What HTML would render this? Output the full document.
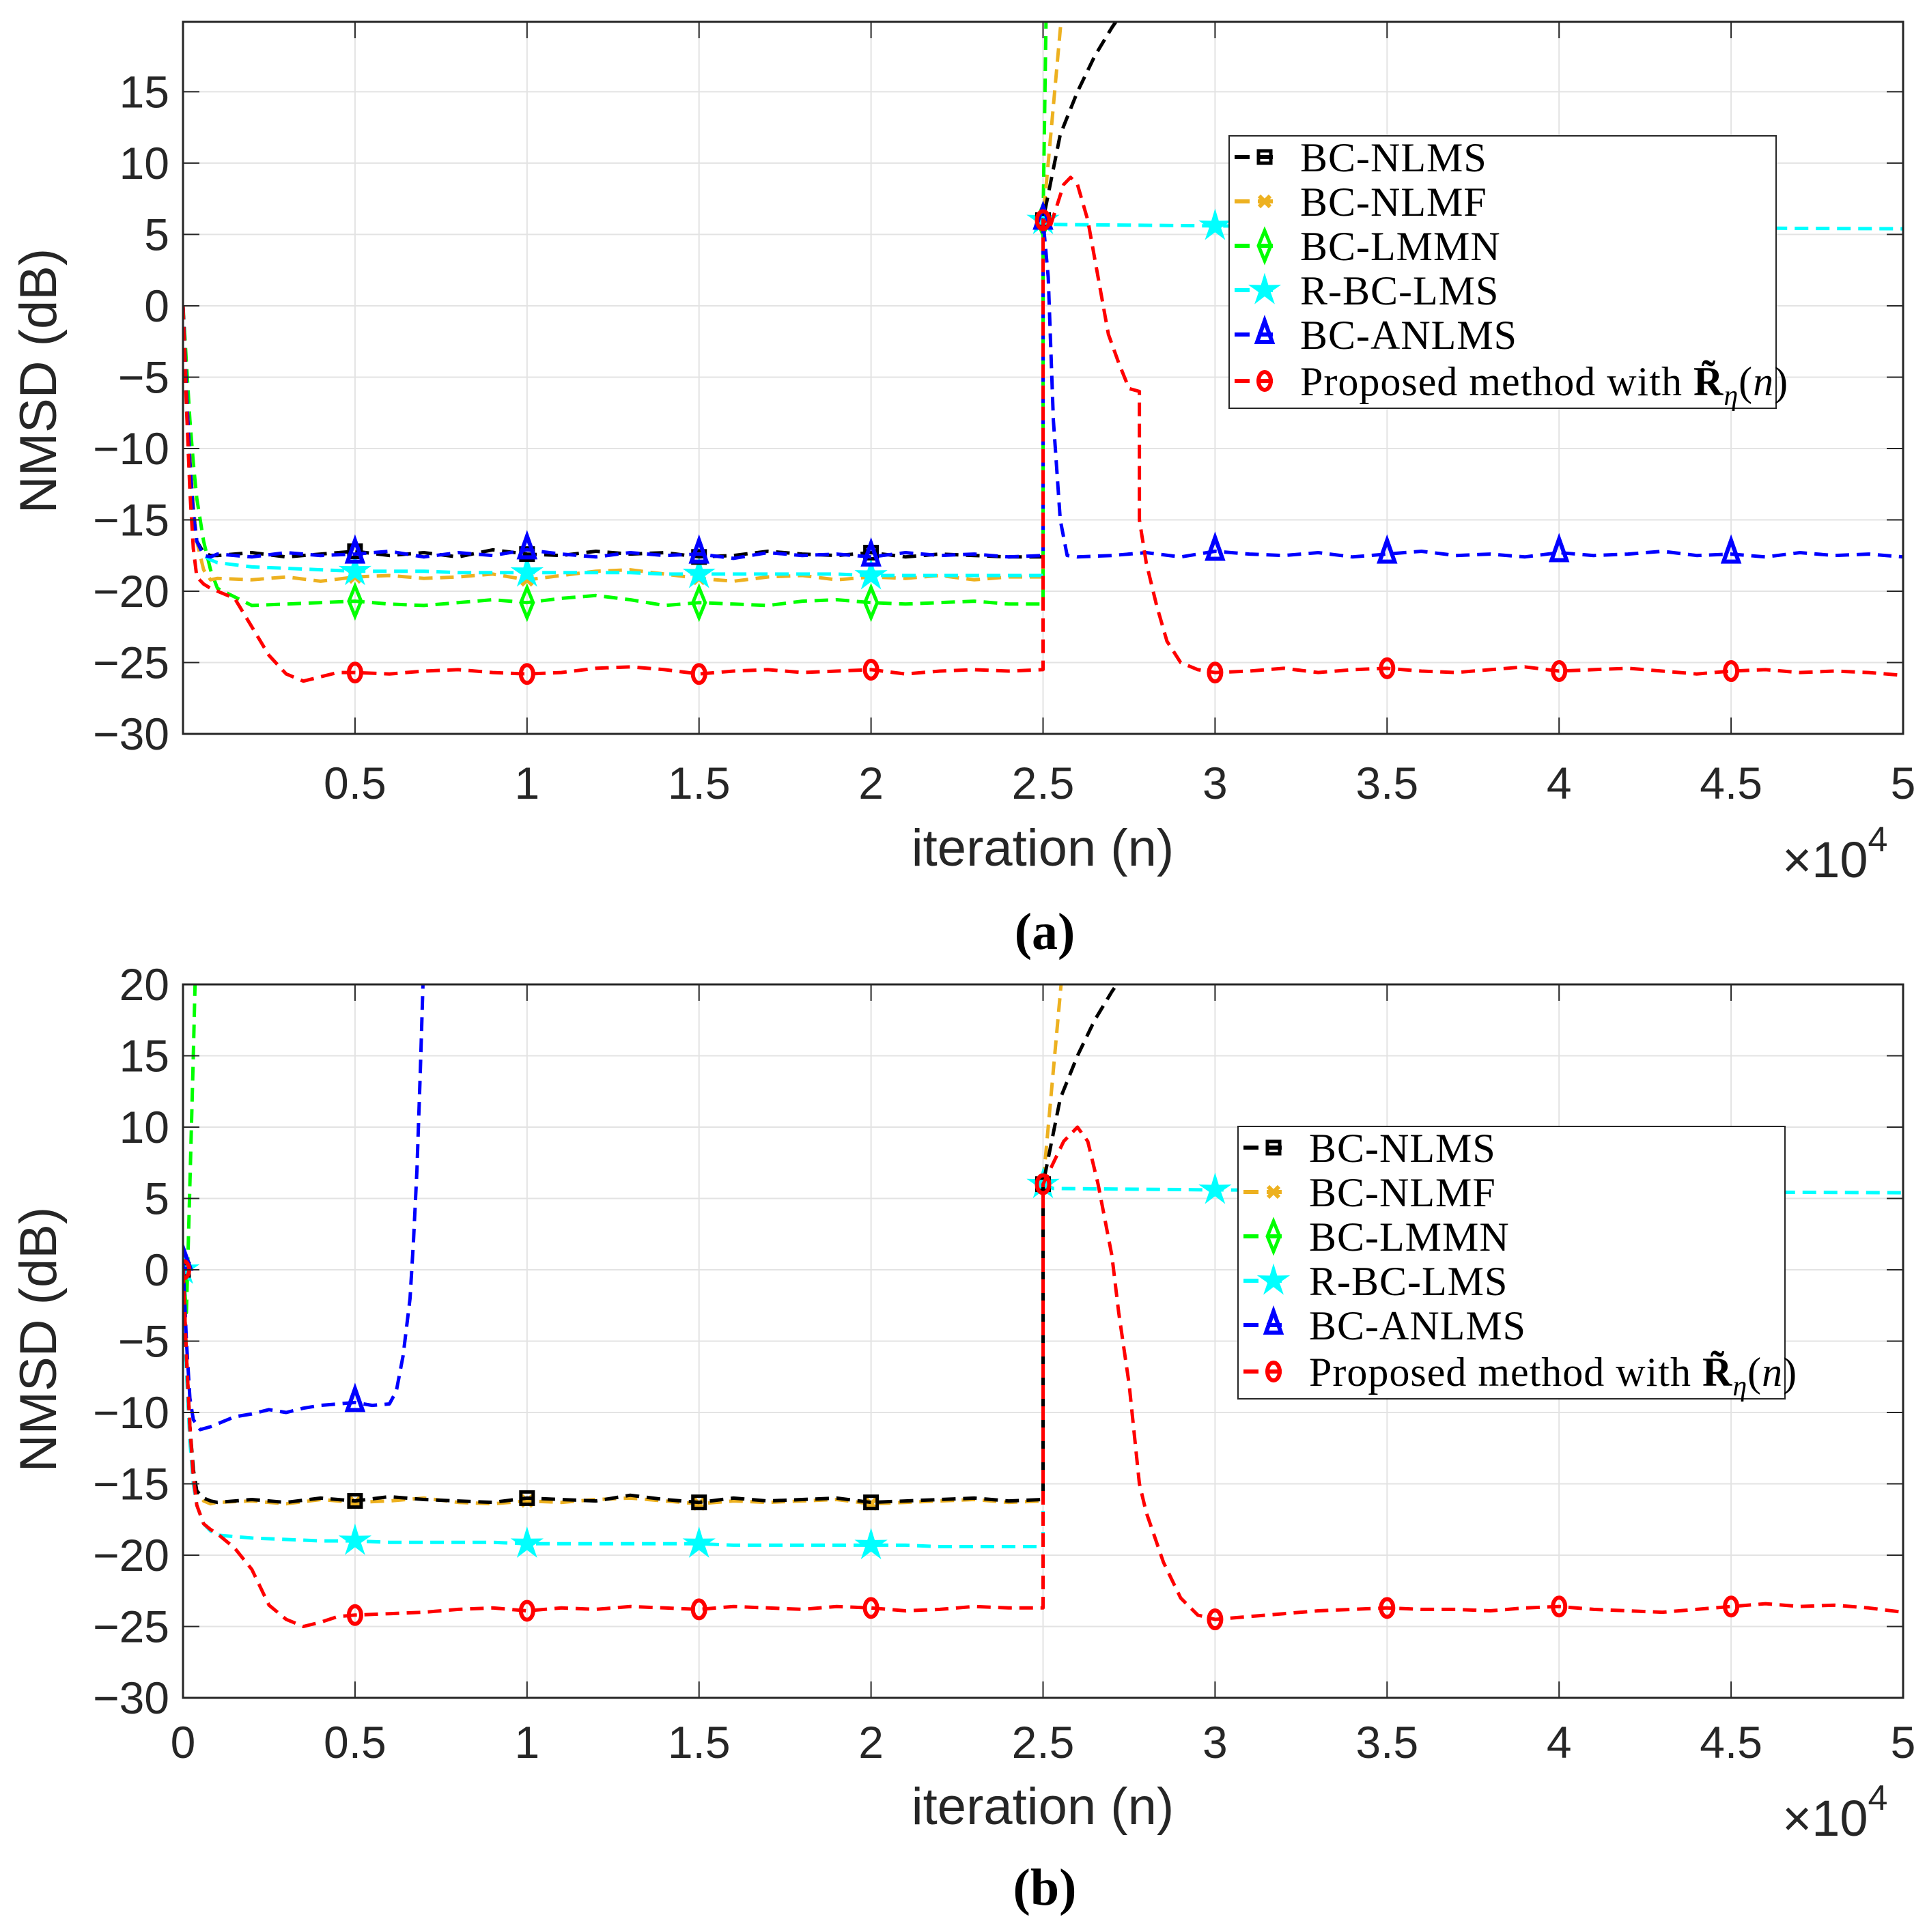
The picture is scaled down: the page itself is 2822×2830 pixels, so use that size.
<!DOCTYPE html>
<html><head><meta charset="utf-8"><style>
html,body{margin:0;padding:0;background:#fff}
svg{display:block}
.tick{font-family:"Liberation Sans",sans-serif;font-size:66px;fill:#262626}
.axt{font-family:"Liberation Sans",sans-serif;font-size:76px;fill:#262626}
.exp{font-family:"Liberation Sans",sans-serif;font-size:74px;fill:#262626}
.leg{font-family:"Liberation Serif",serif;font-size:60px;fill:#000;letter-spacing:1px}
.cap{font-family:"Liberation Serif",serif;font-size:76px;font-weight:bold;fill:#000}
</style></head><body>
<svg id="fig" width="2822" height="2830" viewBox="0 0 2822 2830" xmlns="http://www.w3.org/2000/svg">
<defs>
<clipPath id="clipA"><rect x="268" y="32" width="2519" height="1043"/></clipPath>
<clipPath id="clipB"><rect x="268" y="1442" width="2519" height="1045"/></clipPath>
</defs>
<g id="gridA"></g>
<g id="gridB"></g>
<g id="seriesA" clip-path="url(#clipA)"></g>
<g id="seriesB" clip-path="url(#clipB)"></g>
<g id="axesA"></g>
<g id="axesB"></g>
<text class="axt" transform="translate(82,558) rotate(-90)" text-anchor="middle">NMSD (dB)</text>
<text class="axt" x="1527" y="1268" text-anchor="middle">iteration (n)</text>
<text class="exp" x="2610" y="1285">×10<tspan font-size="52" dy="-38">4</tspan></text>
<text class="cap" x="1530" y="1390" text-anchor="middle">(a)</text>
<text class="axt" transform="translate(82,1962) rotate(-90)" text-anchor="middle">NMSD (dB)</text>
<text class="axt" x="1527" y="2672" text-anchor="middle">iteration (n)</text>
<text class="exp" x="2610" y="2689">×10<tspan font-size="52" dy="-38">4</tspan></text>
<text class="cap" x="1530" y="2790" text-anchor="middle">(b)</text>
<g id="legA"></g>
<g id="legB"></g>
</svg>
<script>
// ---------- data (a) ----------
const headIter = [0,100,200,300,400,600,800];
const midIter = [1000,2000,3000,4000,5000,6000,7000,8000,9000,10000,11000,12000,13000,14000,15000,16000,17000,18000,19000,20000,21000,22000,23000,24000];
const lateIter = [27000,28000,29000,30000,31000,32000,33000,34000,35000,36000,37000,38000,39000,40000,41000,42000,43000,44000,45000,46000,47000,48000,49000,50000];
const redHeadIter = [0,100,200,300,400,600,800,1000,1500,2000,2500,3000,3500,4000,4500];
const redMidIter = [5000,6000,7000,8000,9000,10000,11000,12000,13000,14000,15000,16000,17000,18000,19000,20000,21000,22000,23000,24000];
const redLateIter = [31000,32000,33000,34000,35000,36000,37000,38000,39000,40000,41000,42000,43000,44000,45000,46000,47000,48000,49000,50000];

const a_black_y = [0,-6,-11,-14.5,-16.5,-17.3,-17.5, -17.5,-17.3,-17.6,-17.4,-17.2,-17.5,-17.3,-17.6,-17.1,-17.4,-17.5,-17.2,-17.4,-17.3,-17.6,-17.5,-17.2,-17.4,-17.5,-17.3,-17.6,-17.4,-17.5,-17.6, -17.6,6,12,15,17.5,19.5,23];
const a_black_tailIter = [25000,25000,25500,26000,26500,27000,28000];
const a_orange_y = [0,-6,-10.5,-14,-16.5,-18.5,-19.2, -19.1,-19.2,-19.0,-19.3,-19.0,-18.9,-19.1,-19.0,-18.8,-19.2,-18.9,-18.6,-18.5,-18.8,-19.1,-19.3,-19.0,-18.9,-19.2,-19.0,-19.1,-18.9,-19.2,-19.0, -19,6,14,22];
const a_orange_tailIter = [25000,25000,25300,25600];
const a_green_y = [0,-4,-8,-11,-13.5,-16.5,-18.5, -19.8,-21,-20.9,-20.8,-20.7,-20.9,-21,-20.8,-20.6,-20.8,-20.5,-20.3,-20.6,-21,-20.8,-20.9,-21,-20.7,-20.6,-20.8,-20.9,-20.8,-20.7,-20.9, -20.9,6,22];
const a_green_tailIter = [25000,25000,25100];
const a_cyan_y = [0,-7,-12,-15,-16.5,-17.5,-17.8, -18.0,-18.3,-18.4,-18.5,-18.6,-18.6,-18.6,-18.7,-18.7,-18.7,-18.7,-18.7,-18.7,-18.8,-18.8,-18.8,-18.8,-18.8,-18.8,-18.9,-18.9,-18.9,-18.9,-18.9, -18.9,6,5.7,5.6,5.5,5.4];
const a_cyan_tailIter = [25000,25000,25300,30000,40000,50000];
const a_blue_y = [0,-6,-11,-14.5,-16.5,-17.5,-17.6, -17.4,-17.6,-17.3,-17.5,-17.4,-17.2,-17.6,-17.3,-17.5,-17.1,-17.4,-17.6,-17.3,-17.5,-17.4,-17.7,-17.3,-17.5,-17.4,-17.6,-17.3,-17.5,-17.4,-17.6, -17.5,6,2,-8,-15,-17.5,-17.6, -17.5,-17.3,-17.6,-17.2,-17.4,-17.5,-17.3,-17.6,-17.4,-17.2,-17.5,-17.4,-17.6,-17.3,-17.5,-17.4,-17.2,-17.5,-17.4,-17.6,-17.3,-17.5,-17.4,-17.6];
const a_blue_tailIter = [25000,25000,25150,25300,25500,25700,26000];
const a_red_y = [0,-7,-13,-17,-19,-19.5,-19.8,-20,-20.5,-22.5,-24.5,-25.8,-26.3,-26,-25.7, -25.7,-25.8,-25.6,-25.5,-25.7,-25.8,-25.7,-25.4,-25.3,-25.5,-25.8,-25.6,-25.5,-25.7,-25.6,-25.5,-25.8,-25.6,-25.5,-25.6, -25.5,6,5.5,7,8.5,9,8.5,6,2,-2,-4,-5.8,-6,-15,-18,-21,-23.5,-25,-25.5,-25.7, -25.6,-25.4,-25.7,-25.5,-25.4,-25.6,-25.7,-25.5,-25.3,-25.6,-25.5,-25.4,-25.6,-25.8,-25.6,-25.5,-25.7,-25.6,-25.7,-25.9];
const a_red_tailIter = [25000,25000,25200,25400,25600,25800,26000,26300,26600,26900,27200,27500,27800,27800,28000,28300,28600,29000,29500,30000];

// ---------- data (b) ----------
const b_headIter = [0,100,200,300,400,600,800,1000];
const b_midIter = [2000,3000,4000,5000,6000,7000,8000,9000,10000,11000,12000,13000,14000,15000,16000,17000,18000,19000,20000,21000,22000,23000,24000];
const b_black_y = [0,-6,-11,-14,-15.5,-16,-16.2,-16.3, -16.1,-16.3,-16,-16.2,-15.9,-16.1,-16.2,-16.3,-16,-16.1,-16.2,-15.8,-16.1,-16.3,-16,-16.2,-16.1,-16,-16.3,-16.2,-16.1,-16,-16.2, -16.1,6,12,15,17.5,19.5,23];
const b_orange_y = [0,-6,-11,-14,-15.6,-16.2,-16.4,-16.3, -16.2,-16.4,-16.1,-16.3,-16.2,-16.0,-16.3,-16.4,-16.2,-16.3,-16.1,-16.0,-16.2,-16.4,-16.2,-16.3,-16.2,-16.1,-16.4,-16.3,-16.2,-16.1,-16.3, -16.2,6,14,22];
const b_green_iter = [0,100,200,300,400];
const b_green_y = [0,-3,6,15,25];
const b_cyan_y = [0,-7,-12,-15,-16.5,-17.8,-18.3,-18.6, -18.8,-18.9,-19.0,-19.0,-19.1,-19.1,-19.1,-19.1,-19.2,-19.2,-19.2,-19.2,-19.2,-19.2,-19.3,-19.3,-19.3,-19.3,-19.3,-19.3,-19.4,-19.4,-19.4, -19.4,6,5.7,5.6,5.5,5.4];
const b_blue_iter = [0,100,200,300,500,800,1000,1500,2000,2500,3000,3500,4000,4500,5000,5500,6000,6200,6400,6600,6700,6800,6900,7000];
const b_blue_y = [0.6,-5,-9,-10.5,-11.2,-11,-10.8,-10.3,-10.1,-9.8,-10,-9.7,-9.5,-9.4,-9.3,-9.5,-9.4,-8.5,-6,-2,2,7,14,22];
const b_red_y = [0,-6,-11,-14.5,-16.5,-17.8,-18.2,-18.5,-19.5,-21,-23.5,-24.5,-25,-24.7,-24.3, -24.2,-24.1,-24.0,-23.8,-23.7,-23.9,-23.7,-23.8,-23.6,-23.7,-23.8,-23.6,-23.7,-23.8,-23.6,-23.7,-23.9,-23.8,-23.6,-23.7, -23.7,6,7.5,9,10,9,6,1,-3,-8,-15,-17,-20.5,-23,-24.2,-24.5, -24.3,-24.1,-23.9,-23.8,-23.7,-23.8,-23.8,-23.9,-23.7,-23.6,-23.8,-23.9,-24,-23.8,-23.6,-23.4,-23.6,-23.5,-23.7,-24];
const b_red_tailIter = [25000,25000,25300,25600,26000,26300,26600,27000,27200,27500,27800,28000,28500,29000,29500,30000];

const yTicksA = [-30,-25,-20,-15,-10,-5,0,5,10,15];
const yTicksB = [-30,-25,-20,-15,-10,-5,0,5,10,15,20];
const xTickVals = [0,5000,10000,15000,20000,25000,30000,35000,40000,45000,50000];
const xTickLabelsA = ['','0.5','1','1.5','2','2.5','3','3.5','4','4.5','5'];
const xTickLabelsB = ['0','0.5','1','1.5','2','2.5','3','3.5','4','4.5','5'];
const markerIterA = [5000,10000,15000,20000,25000,30000,35000,40000,45000];
const markerIterB = [0,5000,10000,15000,20000,25000,30000,35000,40000,45000];
const legendLabels = ['BC-NLMS','BC-NLMF','BC-LMMN','R-BC-LMS','BC-ANLMS'];

// ---------- drawing ----------
const NS='http://www.w3.org/2000/svg';
const L=268,R=2787;
const axA={top:32,bottom:1075,ymin:-30,ymax:19.9};
const axB={top:1442,bottom:2487,ymin:-30,ymax:20};
function sx(v){return L+(v/50000)*(R-L);}
function sy(ax,v){return ax.bottom-(v-ax.ymin)/(ax.ymax-ax.ymin)*(ax.bottom-ax.top);}
function mk(tag,attrs,parent){const e=document.createElementNS(NS,tag);for(const k in attrs)e.setAttribute(k,attrs[k]);parent.appendChild(e);return e;}

function drawAxes(ax,gGrid,gAx,yT,xLabels,xLabY,pfx){
  for(const v of xTickVals){ if(v>0&&v<50000){const l=mk('line',{x1:sx(v),x2:sx(v),y1:ax.top,y2:ax.bottom,stroke:'#e3e3e3','stroke-width':2},gGrid);
    
    }}
  for(const v of yT){const y=sy(ax,v);const l=mk('line',{x1:L,x2:R,y1:y,y2:y,stroke:'#e3e3e3','stroke-width':2},gGrid);
    
    
    const t=mk('line',{x1:L,x2:L+24,y1:y,y2:y,stroke:'#262626','stroke-width':2},gAx);
    
    
    const t2=mk('line',{x1:R,x2:R-24,y1:y,y2:y,stroke:'#262626','stroke-width':2},gAx);
    
    
    const tx=mk('text',{x:L-20,y:y+23,'text-anchor':'end',class:'tick'},gAx);tx.textContent=(v<0?'\u2212'+(-v):String(v));
    
    }
  xTickVals.forEach((v,i)=>{const x=sx(v);
    const t=mk('line',{x1:x,x2:x,y1:ax.bottom,y2:ax.bottom-24,stroke:'#262626','stroke-width':2},gAx);
    
    
    const t2=mk('line',{x1:x,x2:x,y1:ax.top,y2:ax.top+24,stroke:'#262626','stroke-width':2},gAx);
    
    
    if(xLabels[i]){const tx=mk('text',{x:x,y:xLabY,'text-anchor':'middle',class:'tick'},gAx);tx.textContent=xLabels[i];
    
    }});
  const b=mk('rect',{x:L,y:ax.top,width:R-L,height:ax.bottom-ax.top,fill:'none',stroke:'#262626','stroke-width':3},gAx);
  
  
}

function marker(type,cx,cy,color,g,name){
  let e;const s=11;
  if(type==='square') e=mk('rect',{x:cx-s+2,y:cy-s+2,width:2*s-4,height:2*s-4,fill:'none',stroke:color,'stroke-width':5},g);
  else if(type==='x') e=mk('path',{d:`M${cx-8},${cy-8}L${cx+8},${cy+8}M${cx-8},${cy+8}L${cx+8},${cy-8}`,stroke:color,'stroke-width':6,fill:'none'},g);
  else if(type==='diamond') e=mk('path',{d:`M${cx},${cy-22}L${cx+9},${cy}L${cx},${cy+22}L${cx-9},${cy}Z`,stroke:color,'stroke-width':5,fill:'none'},g);
  else if(type==='star'){let p='';for(let k=0;k<10;k++){const r=k%2?8:22;const a=-Math.PI/2+k*Math.PI/5;p+=(k?'L':'M')+(cx+r*Math.cos(a)).toFixed(1)+','+(cy+r*Math.sin(a)).toFixed(1);}e=mk('path',{d:p+'Z',fill:color,stroke:color,'stroke-width':2},g);}
  else if(type==='tri') e=mk('path',{d:`M${cx},${cy-20}L${cx+11},${cy+11}L${cx-11},${cy+11}Z`,stroke:color,'stroke-width':6,fill:'none'},g);
  else e=mk('ellipse',{cx:cx,cy:cy,rx:9,ry:13,stroke:color,'stroke-width':6,fill:'none'},g);
  
  
}
function interp(xs,ys,v){
  if(v<xs[0]||v>xs[xs.length-1])return null;
  let idx=-1;for(let i=0;i<xs.length;i++){if(xs[i]===v)idx=i;}
  if(idx>=0)return ys[idx];
  for(let i=0;i<xs.length-1;i++){if(xs[i]<=v&&xs[i+1]>=v){return ys[i]+(ys[i+1]-ys[i])*(v-xs[i])/(xs[i+1]-xs[i]);}}
  return null;
}
function drawSeries(ax,g,xs,ys,color,mtype,mIters,name){
  const pts=xs.map((x,i)=>sx(x).toFixed(1)+','+sy(ax,ys[i]).toFixed(1)).join(' ');
  const p=mk('polyline',{points:pts,fill:'none',stroke:color,'stroke-width':5,'stroke-dasharray':'20 11','stroke-linejoin':'round'},g);
  
  
  for(const m of mIters){const v=interp(xs,ys,m);if(v===null||v>ax.ymax)continue;marker(mtype,sx(m),sy(ax,v),color,g,name+'-marker');}
}
const gA=document.getElementById('seriesA'),gB=document.getElementById('seriesB');
drawAxes(axA,document.getElementById('gridA'),document.getElementById('axesA'),yTicksA,xTickLabelsA,1170,'plot-a');
drawAxes(axB,document.getElementById('gridB'),document.getElementById('axesB'),yTicksB,xTickLabelsB,2575,'plot-b');

const C={black:'#000000',orange:'#EDB120',green:'#00FF00',cyan:'#00FFFF',blue:'#0000FF',red:'#FF0000'};
drawSeries(axA,gA,headIter.concat(midIter,a_green_tailIter),a_green_y,C.green,'diamond',markerIterA,'a-bc-lmmn');
drawSeries(axA,gA,headIter.concat(midIter,a_orange_tailIter),a_orange_y,C.orange,'x',markerIterA,'a-bc-nlmf');
drawSeries(axA,gA,headIter.concat(midIter,a_cyan_tailIter),a_cyan_y,C.cyan,'star',markerIterA,'a-r-bc-lms');
drawSeries(axA,gA,headIter.concat(midIter,a_black_tailIter),a_black_y,C.black,'square',markerIterA,'a-bc-nlms');
drawSeries(axA,gA,headIter.concat(midIter,a_blue_tailIter,lateIter),a_blue_y,C.blue,'tri',markerIterA,'a-bc-anlms');
drawSeries(axA,gA,redHeadIter.concat(redMidIter,a_red_tailIter,redLateIter),a_red_y,C.red,'circle',markerIterA,'a-proposed');
drawSeries(axB,gB,b_green_iter,b_green_y,C.green,'diamond',markerIterB,'b-bc-lmmn');
drawSeries(axB,gB,b_headIter.concat(b_midIter,a_orange_tailIter),b_orange_y,C.orange,'x',markerIterB,'b-bc-nlmf');
drawSeries(axB,gB,b_headIter.concat(b_midIter,a_cyan_tailIter),b_cyan_y,C.cyan,'star',markerIterB,'b-r-bc-lms');
drawSeries(axB,gB,b_headIter.concat(b_midIter,a_black_tailIter),b_black_y,C.black,'square',markerIterB,'b-bc-nlms');
drawSeries(axB,gB,b_blue_iter,b_blue_y,C.blue,'tri',markerIterB,'b-bc-anlms');
drawSeries(axB,gB,redHeadIter.concat(redMidIter,b_red_tailIter,redLateIter),b_red_y,C.red,'circle',markerIterB,'b-proposed');

function legend(g,x0,y0,x1,y1,pfx){
  const box=mk('rect',{x:x0,y:y0,width:x1-x0,height:y1-y0,fill:'#fff',stroke:'#262626','stroke-width':2},g);
  
  
  const cols=[C.black,C.orange,C.green,C.cyan,C.blue,C.red];
  const types=['square','x','diamond','star','tri','circle'];
  const offs=[31,96,161,226,291,359];
  for(let i=0;i<6;i++){const y=y0+offs[i];
    const ln=mk('line',{x1:x0+8,x2:x0+76,y1:y,y2:y,stroke:cols[i],'stroke-width':6,'stroke-dasharray':'22 12'},g);
    
    
    marker(types[i],x0+52,y,cols[i],g,pfx+'-marker');
    const t=mk('text',{x:x0+104,y:y+21,class:'leg'},g);
    
    
    if(i<5)t.textContent=legendLabels[i];
    else t.innerHTML='Proposed method with <tspan font-weight="bold">R\u0303</tspan><tspan font-style="italic" font-size="42" dy="14">η</tspan><tspan dy="-14">(</tspan><tspan font-style="italic">n</tspan>)';
  }
}
legend(document.getElementById('legA'),1800,199,2601,598,'legend-a');
legend(document.getElementById('legB'),1813,1650,2614,2049,'legend-b');
</script>
</body></html>
